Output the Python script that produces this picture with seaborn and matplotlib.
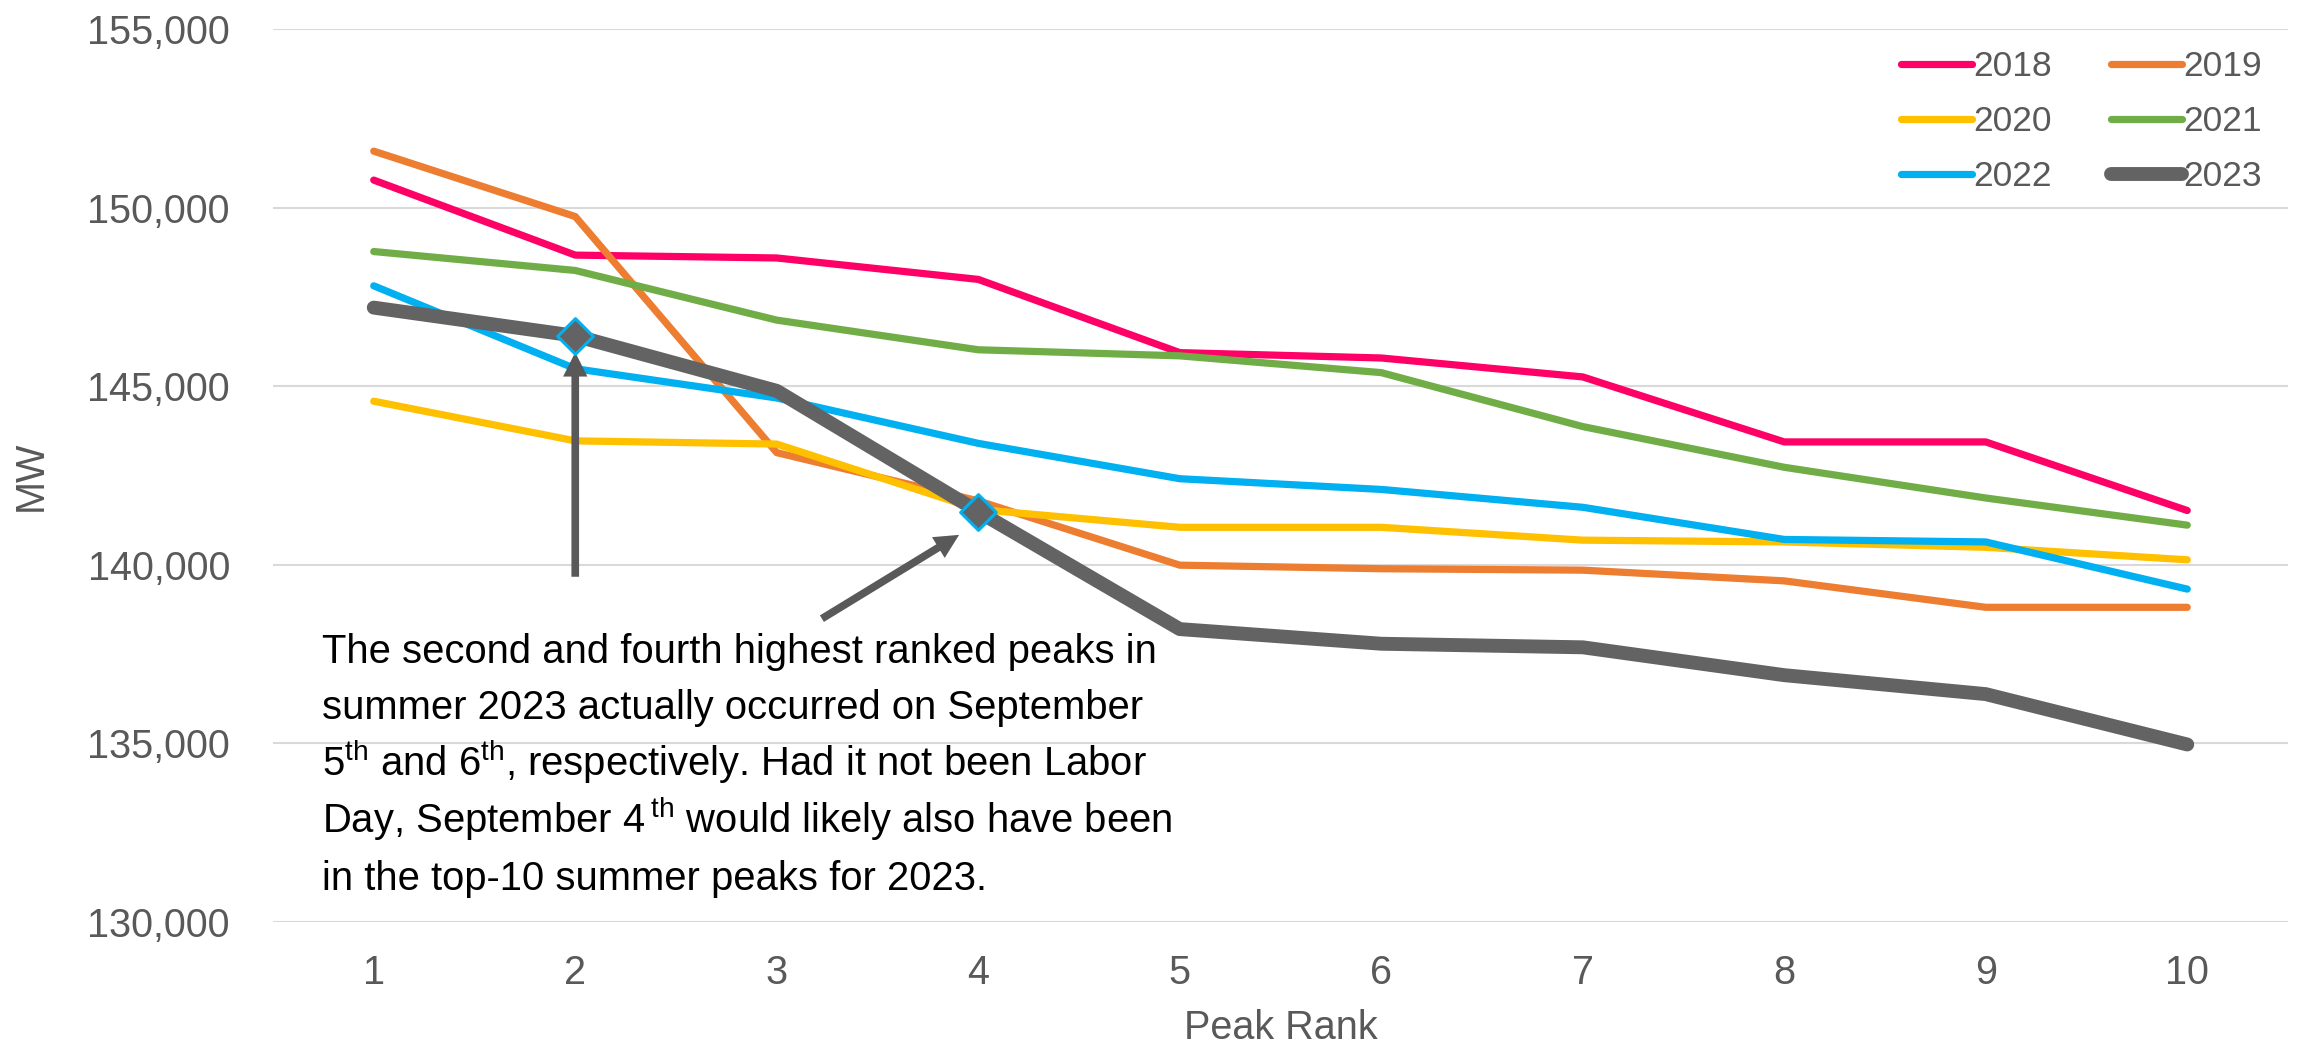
import matplotlib
matplotlib.use("Agg")
import matplotlib.pyplot as plt
from matplotlib.lines import Line2D
from matplotlib.ticker import FuncFormatter
import numpy as np
import pandas as pd
import seaborn as sns

# Top-10 summer peak loads (MW) by rank
ranks = [1, 2, 3, 4, 5, 6, 7, 8, 9, 10]
peaks_2018 = [150770, 148670, 148590, 147990, 145940, 145790, 145260, 143440, 143440, 141520]
peaks_2019 = [151580, 149750, 143140, 141790, 139990, 139890, 139850, 139550, 138810, 138810]
peaks_2020 = [144580, 143470, 143380, 141550, 141050, 141050, 140690, 140640, 140490, 140140]
peaks_2021 = [148770, 148240, 146850, 146020, 145850, 145380, 143870, 142730, 141870, 141110]
peaks_2022 = [147810, 145490, 144670, 143400, 142410, 142110, 141610, 140710, 140640, 139320]
peaks_2023 = [147200, 146410, 144870, 141490, 138200, 137790, 137690, 136910, 136380, 134970]
years = ["2018", "2019", "2020", "2021", "2022", "2023"]
highlight_ranks = [2, 4]

y_ticks = [130000, 135000, 140000, 145000, 150000, 155000]

note_lines = [
    "The second and fourth highest ranked peaks in",
    "summer 2023 actually occurred on September",
    r"5$^{\mathrm{th}}$ and 6$^{\mathrm{th}}$, respectively. Had it not been Labor",
    r"Day, September 4$\,^{\mathrm{th}}$ would likely also have been",
    "in the top-10 summer peaks for 2023.",
]

colors = {"2018": "#FF0066", "2019": "#ED7D31", "2020": "#FFC000",
          "2021": "#70AD47", "2022": "#00B0F0", "2023": "#636363"}
widths = {"2018": 5.2, "2019": 5.2, "2020": 5.2, "2021": 5.2, "2022": 5.2, "2023": 10.0}

series = [peaks_2018, peaks_2019, peaks_2020, peaks_2021, peaks_2022, peaks_2023]
df = pd.concat(
    [pd.DataFrame({"Peak Rank": ranks, "MW": vals, "Year": yr}) for yr, vals in zip(years, series)],
    ignore_index=True,
)
marks = df[(df["Year"] == "2023") & (df["Peak Rank"].isin(highlight_ranks))]

sns.set_style("white")
plt.rcParams["font.family"] = ["Liberation Sans", "DejaVu Sans"]
plt.rcParams["mathtext.fontset"] = "custom"
plt.rcParams["mathtext.rm"] = "Liberation Sans"
plt.rcParams["mathtext.it"] = "Liberation Sans:italic"
plt.rcParams["mathtext.bf"] = "Liberation Sans:bold"

W, H = 2302, 1046
fig = plt.figure(figsize=(W / 100, H / 100), dpi=100)
ax = fig.add_axes([273 / W, 1 - 922 / H, (2288 - 273) / W, (922 - 29) / H])

sns.lineplot(data=df, x="Peak Rank", y="MW", hue="Year", size="Year",
             palette=colors, sizes=widths, hue_order=years, size_order=years,
             legend=False, ax=ax, sort=False)
for ln in ax.lines:
    ln.set_solid_capstyle("round")

grey = "#595959"
# arrows pointing at the highlighted 2023 peaks
arrow_style = "simple,head_length=1.75,head_width=1.75,tail_width=0.55"
ax.annotate("", xy=(2, 145950), xytext=(2, 139665),
            arrowprops=dict(arrowstyle=arrow_style, mutation_scale=10,
                            fc=grey, ec="none", shrinkA=0, shrinkB=0), zorder=5)
ax.annotate("", xy=(3.905, 140838), xytext=(3.224, 138492),
            arrowprops=dict(arrowstyle=arrow_style, mutation_scale=10,
                            fc=grey, ec="none", shrinkA=0, shrinkB=0), zorder=5)

sns.scatterplot(data=marks, x="Peak Rank", y="MW", marker="D", s=330,
                color=colors["2023"], edgecolor="#00B0F0", linewidth=2.2,
                legend=False, ax=ax, zorder=6)

ax.set_xlim(0.5, 10.5)
ax.set_ylim(y_ticks[0], y_ticks[-1])
ax.set_xticks(ranks)
ax.set_yticks(y_ticks)
ax.yaxis.set_major_formatter(FuncFormatter(lambda v, p: f"{v:,.0f}"))
ax.yaxis.grid(True, color="#D9D9D9", lw=1.5)
ax.xaxis.grid(False)
for s in ax.spines.values():
    s.set_visible(False)
ax.tick_params(axis="both", length=0, labelsize=28.5, labelcolor=grey)
ax.tick_params(axis="y", pad=31)
ax.tick_params(axis="x", pad=23)
ax.set_xlabel("Peak Rank", fontsize=28.5, color=grey, labelpad=12)
ax.set_ylabel("MW", fontsize=28.5, color=grey, labelpad=27)

# legend laid out row by row: 2018 2019 / 2020 2021 / 2022 2023
legend_order = years[0::2] + years[1::2]
handles = [Line2D([], [], color=colors[y], lw=widths[y], solid_capstyle="round")
           for y in legend_order]
leg = ax.legend(handles, legend_order, ncol=2, loc="upper right", frameon=False,
                bbox_to_anchor=(2262 / W, 1 - 50 / H), bbox_transform=fig.transFigure,
                fontsize=25.5, handlelength=2.0, handletextpad=0.05,
                columnspacing=1.65, labelspacing=0.62, borderpad=0, borderaxespad=0)
for t in leg.get_texts():
    t.set_color(grey)

baselines = [663, 719, 776, 833, 890]
for line, b in zip(note_lines, baselines):
    fig.text(322 / W, 1 - b / H, line, ha="left", va="baseline", color="black",
             fontsize=28.8)

fig.savefig("out.png", dpi=100)
